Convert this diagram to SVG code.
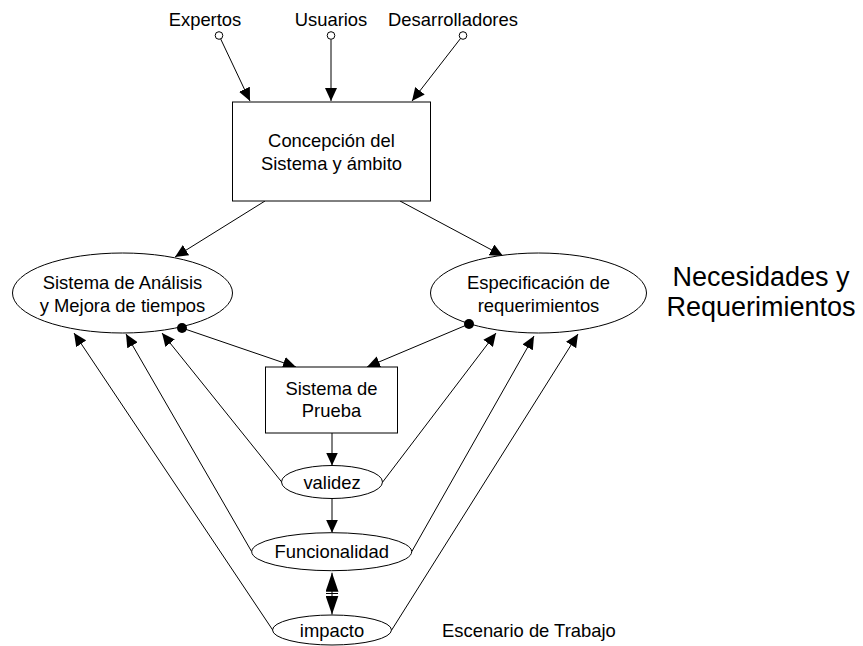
<svg xmlns="http://www.w3.org/2000/svg" width="863" height="646" viewBox="0 0 863 646">
  <style>
    text { font-family: "Liberation Sans", Arial, sans-serif; font-size: 18.4px; fill: #000; text-anchor: middle; }
    .big { font-size: 27px; }
    .left { text-anchor: start; }
    .shape { fill: #fff; stroke: #000; stroke-width: 1; }
    .edge { fill: none; stroke: #000; stroke-width: 1; marker-end: url(#arrow); }
    .port { fill: #fff; stroke: #000; stroke-width: 1; }
    .dot { fill: #000; }
  </style>
  <defs>
    <marker id="arrow" viewBox="0 0 13 12" refX="13" refY="6" markerWidth="13" markerHeight="12" markerUnits="userSpaceOnUse" orient="auto">
      <path d="M0,0 L13,6 L0,12 z" fill="#000"/>
    </marker>
    <marker id="arrowLong" viewBox="0 0 19 13" refX="19" refY="6.5" markerWidth="19" markerHeight="13" markerUnits="userSpaceOnUse" orient="auto">
      <path d="M0,0 L19,6.5 L0,13 z" fill="#000"/>
    </marker>
  </defs>
  <rect width="863" height="646" fill="#fff"/>

  <!-- connectors -->
  <g id="connectors">
    <line class="edge" x1="220.7" y1="39" x2="250" y2="101"/>
    <line class="edge" x1="331" y1="39.5" x2="331" y2="101"/>
    <line class="edge" x1="460.5" y1="38.5" x2="412" y2="101"/>
    <line class="edge" x1="265" y1="201" x2="175" y2="257"/>
    <line class="edge" x1="400" y1="201" x2="503" y2="256"/>
    <line class="edge" x1="182" y1="328" x2="296" y2="367"/>
    <line class="edge" x1="469" y1="324" x2="367" y2="367"/>
    <line class="edge" x1="332" y1="433" x2="332" y2="465.5"/>
    <line class="edge" x1="332" y1="498.5" x2="332" y2="532.7"/>
    <line x1="332" y1="593" x2="332" y2="572.7" stroke="#000" marker-end="url(#arrowLong)"/>
    <line x1="332" y1="593" x2="332" y2="614.5" stroke="#000" marker-end="url(#arrowLong)"/>
    <line x1="326" y1="593.5" x2="338" y2="593.5" stroke="#000"/>
    <!-- feedback lines toward the analysis ellipse -->
    <line class="edge" x1="281.7" y1="482" x2="162" y2="333"/>
    <line class="edge" x1="251.7" y1="551.7" x2="126" y2="334"/>
    <line class="edge" x1="272.7" y1="630" x2="74" y2="333"/>
    <!-- feedback lines toward the requirements ellipse -->
    <line class="edge" x1="382.7" y1="482" x2="496" y2="333"/>
    <line class="edge" x1="411.7" y1="551.7" x2="534" y2="336"/>
    <line class="edge" x1="391.7" y1="630" x2="578" y2="334"/>
  </g>

  <g id="expertos">
    <text x="205" y="26">Expertos</text>
    <circle class="port" cx="219" cy="35.5" r="3.8"/>
  </g>
  <g id="usuarios">
    <text x="331" y="26">Usuarios</text>
    <circle class="port" cx="331" cy="35.5" r="3.8"/>
  </g>
  <g id="desarrolladores">
    <text x="453" y="26">Desarrolladores</text>
    <circle class="port" cx="463" cy="35.5" r="3.8"/>
  </g>

  <g id="concepcion">
    <rect class="shape" x="232.5" y="102" width="198" height="99"/>
    <text x="331.5" y="147">Concepción del</text>
    <text x="331.5" y="170">Sistema y ámbito</text>
  </g>

  <g id="analisis">
    <ellipse class="shape" cx="122.5" cy="293" rx="110" ry="40"/>
    <text x="122.5" y="289">Sistema de Análisis</text>
    <text x="122.5" y="312">y Mejora de tiempos</text>
    <circle class="dot" cx="182" cy="328" r="5"/>
  </g>

  <g id="especificacion">
    <ellipse class="shape" cx="538.5" cy="293" rx="108" ry="40"/>
    <text x="538.5" y="289">Especificación de</text>
    <text x="538.5" y="312">requerimientos</text>
    <circle class="dot" cx="469" cy="324" r="5"/>
  </g>

  <g id="necesidades">
    <text class="big" x="761" y="286">Necesidades y</text>
    <text class="big" x="761" y="316">Requerimientos</text>
  </g>

  <g id="prueba">
    <rect class="shape" x="265.5" y="367" width="132" height="66"/>
    <text x="331.5" y="395">Sistema de</text>
    <text x="331.5" y="417">Prueba</text>
  </g>

  <g id="validez">
    <ellipse class="shape" cx="332" cy="482" rx="50.5" ry="16.5"/>
    <text x="332" y="488.5">validez</text>
  </g>

  <g id="funcionalidad">
    <ellipse class="shape" cx="331.7" cy="551.7" rx="80" ry="19"/>
    <text x="331.7" y="558.3">Funcionalidad</text>
  </g>

  <g id="impacto">
    <ellipse class="shape" cx="332" cy="630" rx="59.5" ry="15"/>
    <text x="332" y="636.7">impacto</text>
  </g>

  <g id="escenario">
    <text class="left" x="442" y="636.7">Escenario de Trabajo</text>
  </g>
</svg>
